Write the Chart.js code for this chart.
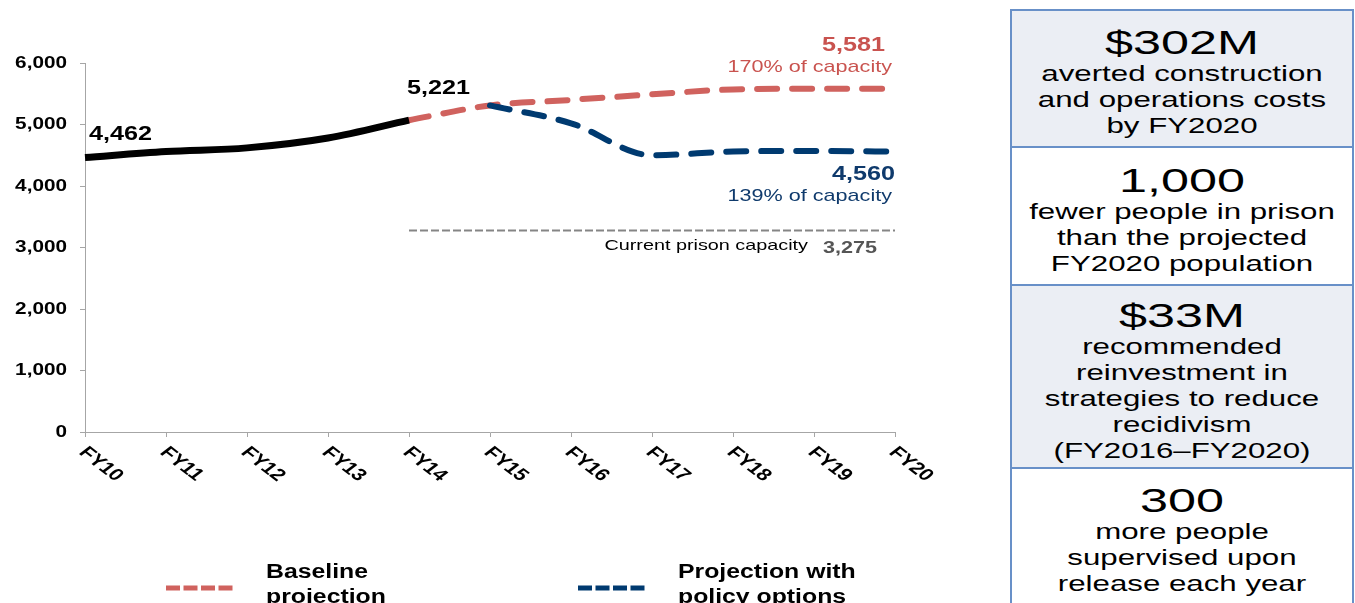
<!DOCTYPE html>
<html>
<head>
<meta charset="utf-8">
<script src="https://cdn.jsdelivr.net/npm/chart.js@4.4.1/dist/chart.umd.min.js"></script>
<style>
  html, body { margin: 0; padding: 0; background: #fff; }
  body { width: 1355px; height: 603px; position: relative; overflow: hidden; font-family: "Liberation Sans", Arial, Helvetica, sans-serif; }
  #chartWrap { position: absolute; left: 0; top: 0; width: 1000px; height: 603px; }
  .stat { position: absolute; left: 1010px; width: 344px; box-sizing: border-box; border: 2px solid #6890c8; overflow: hidden; }
  .stat.shade { background: #ebeef4; }
  .stat .title { position: absolute; left: 0; right: 0; height: 40px; line-height: 40px; font-size: 34px; text-align: center; color: #000; transform: scaleX(1.48); }
  .stat .body { position: absolute; left: 50%; width: 240px; margin-left: -120px; font-size: 22px; line-height: 26px; text-align: center; color: #000; transform: scaleX(1.42); white-space: nowrap; }
</style>
</head>
<body>
<div id="chartWrap"><canvas id="popChart"></canvas></div>
<div id="panel"></div>
<script>
const years = ['FY10', 'FY11', 'FY12', 'FY13', 'FY14', 'FY15', 'FY16', 'FY17', 'FY18', 'FY19', 'FY20']
const actual = [4462, 4560, 4620, 4780, 5070, null, null, null, null, null, null]
const baseline = [null, null, null, null, 5070, 5310, 5400, 5490, 5570, 5581, 5581]
const policy = [null, null, null, null, null, 5310, 5020, 4500, 4560, 4570, 4560]
const capacity = [null, null, null, null, 3275, 3275, 3275, 3275, 3275, 3275, 3275]

const actualLabels = ['4,462', '5,221']
const baselineNotes = ['5,581', '170% of capacity']
const policyNotes = ['4,560', '139% of capacity']
const capacityNotes = ['Current prison capacity', '3,275']

const statTitles = ['$302M', '1,000', '$33M', '300']
const statLines = [
  ['averted construction', 'and operations costs', 'by FY2020'],
  ['fewer people in prison', 'than the projected', 'FY2020 population'],
  ['recommended', 'reinvestment in', 'strategies to reduce', 'recidivism', '(FY2016\u2013FY2020)'],
  ['more people', 'supervised upon', 'release each year']
]

const RED = '#d0625e'
const RED_TEXT = '#c9534f'
const NAVY = '#003a70'
const NAVY_TEXT = '#0f3a6c'
const FONT = '"Liberation Sans", Arial, Helvetica, sans-serif'

// right hand panel
const boxTops = [9, 146, 284, 467]
const boxBottoms = [148, 286, 469, 620]
const titleCenters = [42, 180, 315, 500]
const panel = document.getElementById('panel')
statTitles.forEach((t, i) => {
  const box = document.createElement('div')
  box.className = 'stat' + (i % 2 === 0 ? ' shade' : '')
  box.style.top = boxTops[i] + 'px'
  box.style.height = (boxBottoms[i] - boxTops[i]) + 'px'
  const rel = titleCenters[i] - boxTops[i] - 22
  box.innerHTML = `<div class="title" style="top:${rel}px">${t}</div>` +
    `<div class="body" style="top:${rel + 39}px">${statLines[i].join('<br>')}</div>`
  panel.appendChild(box)
})

const fmt = v => v.toLocaleString('en-US')

const drawText = (ctx, text, px, py, font, color, align, sx) => {
  ctx.save()
  ctx.translate(px, py)
  ctx.scale(sx, 1)
  ctx.font = font
  ctx.fillStyle = color
  ctx.textAlign = align
  ctx.textBaseline = 'middle'
  ctx.fillText(text, 0, 0)
  ctx.restore()
}

const annotations = {
  id: 'annotations',
  afterDraw (chart) {
    const { ctx, scales: { x, y } } = chart
    // y tick labels
    y.ticks.forEach(t => {
      drawText(ctx, fmt(t.value), x.left - 18, y.getPixelForValue(t.value), `bold 17px ${FONT}`, '#000', 'right', 1.22)
    })
    // rotated x labels
    years.forEach((lab, i) => {
      ctx.save()
      ctx.translate(x.getPixelForValue(i) + 5, 444)
      ctx.scale(1.3, 1)
      ctx.rotate(Math.PI / 4)
      ctx.font = `bold 17px ${FONT}`
      ctx.fillStyle = '#000'
      ctx.textAlign = 'left'
      ctx.textBaseline = 'top'
      ctx.fillText(lab, 0, 0)
      ctx.restore()
    })
    const last = years.length - 1
    const xEnd = x.getPixelForValue(last)
    // actual values
    drawText(ctx, actualLabels[0], x.getPixelForValue(0) + 4, y.getPixelForValue(actual[0]) - 23, `bold 21px ${FONT}`, '#000', 'left', 1.2)
    drawText(ctx, actualLabels[1], x.getPixelForValue(4) - 2, y.getPixelForValue(actual[4]) - 32, `bold 21px ${FONT}`, '#000', 'left', 1.2)
    // baseline notes
    drawText(ctx, baselineNotes[0], xEnd - 10, y.getPixelForValue(baseline[last]) - 44, `bold 21px ${FONT}`, RED_TEXT, 'right', 1.2)
    drawText(ctx, baselineNotes[1], xEnd - 3, y.getPixelForValue(baseline[last]) - 21, `17px ${FONT}`, RED_TEXT, 'right', 1.27)
    // policy notes
    drawText(ctx, policyNotes[0], xEnd, y.getPixelForValue(policy[last]) + 23, `bold 21px ${FONT}`, NAVY_TEXT, 'right', 1.2)
    drawText(ctx, policyNotes[1], xEnd - 3, y.getPixelForValue(policy[last]) + 45, `17px ${FONT}`, NAVY_TEXT, 'right', 1.27)
    // capacity notes
    drawText(ctx, capacityNotes[0], xEnd - 87, y.getPixelForValue(capacity[last]) + 15, `15px ${FONT}`, '#000', 'right', 1.32)
    drawText(ctx, capacityNotes[1], xEnd - 18, y.getPixelForValue(capacity[last]) + 18, `bold 17px ${FONT}`, '#555', 'right', 1.27)

    // legend
    const legendItems = [
      { ds: 2, x0: 166, lines: ['Baseline', 'projection'] },
      { ds: 1, x0: 578, lines: ['Projection with', 'policy options'] }
    ]
    legendItems.forEach(item => {
      const ds = chart.data.datasets[item.ds]
      ctx.save()
      ctx.strokeStyle = ds.borderColor
      ctx.lineWidth = 5
      ctx.setLineDash([14, 3.5])
      ctx.beginPath()
      ctx.moveTo(item.x0, 588)
      ctx.lineTo(item.x0 + 67, 588)
      ctx.stroke()
      ctx.restore()
      item.lines.forEach((l, k) => {
        drawText(ctx, l, item.x0 + 100, 572 + k * 25, `bold 20px ${FONT}`, '#000', 'left', 1.24)
      })
    })
  }
}

new Chart(document.getElementById('popChart'), {
  type: 'line',
  data: {
    labels: years,
    datasets: [
      {
        label: 'Actual',
        data: actual,
        borderColor: '#000',
        borderWidth: 7,
        borderCapStyle: 'butt',
        pointRadius: 0,
        cubicInterpolationMode: 'monotone'
      },
      {
        label: 'Projection with policy options',
        data: policy,
        borderColor: NAVY,
        borderWidth: 6,
        borderDash: [20, 15],
        borderCapStyle: 'round',
        pointRadius: 0,
        cubicInterpolationMode: 'monotone'
      },
      {
        label: 'Baseline projection',
        data: baseline,
        borderColor: RED,
        borderWidth: 6,
        borderDash: [20, 15],
        borderCapStyle: 'round',
        pointRadius: 0,
        cubicInterpolationMode: 'monotone'
      },
      {
        label: 'Current prison capacity',
        data: capacity,
        borderColor: '#858585',
        borderWidth: 2,
        borderDash: [8, 3],
        pointRadius: 0
      }
    ]
  },
  options: {
    responsive: true,
    maintainAspectRatio: false,
    animation: false,
    layout: { padding: { top: 63, right: 105, bottom: 0, left: 0 } },
    plugins: {
      legend: { display: false },
      tooltip: { enabled: false }
    },
    scales: {
      x: {
        offset: false,
        grid: { drawOnChartArea: false, drawTicks: true, tickLength: 5, color: '#a6a6a6' },
        border: { display: true, color: '#a6a6a6', width: 1 },
        ticks: { autoSkip: false, maxRotation: 0, minRotation: 0, color: 'rgba(0,0,0,0)' },
        afterFit: (scale) => { scale.height = 171 }
      },
      y: {
        min: 0,
        max: 6000,
        grid: { drawOnChartArea: false, drawTicks: true, tickLength: 5, color: '#a6a6a6' },
        border: { display: true, color: '#a6a6a6', width: 1 },
        ticks: { stepSize: 1000, color: 'rgba(0,0,0,0)' },
        afterFit: (scale) => { scale.width = 85 }
      }
    }
  },
  plugins: [annotations]
})
</script>
</body>
</html>
